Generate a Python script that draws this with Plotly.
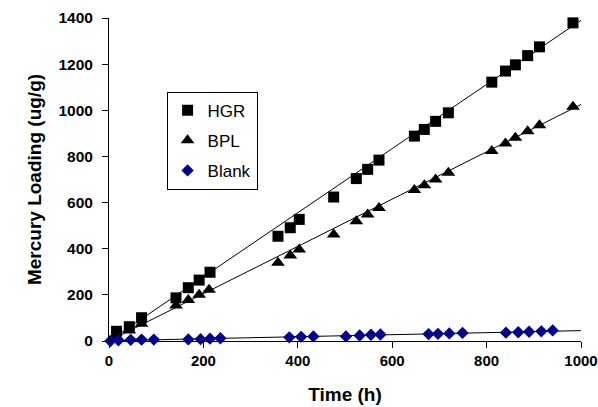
import plotly.graph_objects as go

# HGR data (time h, loading ug/g)
hgr_t = [16, 43, 69, 142, 168, 191, 214, 358, 384, 403, 476, 524, 548, 572,
         647, 668, 692, 719, 811, 840, 861, 887, 912, 983]
hgr_v = [42, 62, 101, 187, 231, 264, 298, 454, 491, 527, 624, 704, 744, 784,
         888, 917, 952, 989, 1122, 1170, 1197, 1237, 1275, 1379]

# BPL data
bpl_t = [16, 43, 69, 142, 168, 191, 212, 358, 384, 403, 476, 524, 548, 572,
         647, 668, 692, 719, 811, 840, 861, 887, 912, 983]
bpl_v = [20, 45, 75, 154, 178, 201, 222, 339, 371, 397, 462, 519, 548, 577,
         654, 675, 700, 729, 823, 856, 881, 909, 935, 1015]

# Blank data
blank_t = [3, 20, 46, 69, 95, 168, 194, 214, 236, 382, 407, 433, 502, 531,
           555, 575, 677, 697, 721, 749, 841, 867, 890, 916, 940]
blank_v = [0, 3, 5, 6, 6, 7, 8, 10, 12, 16, 18, 20, 20, 24, 27, 28, 30, 31,
           33, 35, 36, 38, 40, 42, 46]

# Linear trend line end points
trend_t = [0, 1000]
hgr_trend = [0, 1390]
bpl_trend = [0, 1025]
blank_trend = [1, 45]

x_ticks = [0, 200, 400, 600, 800, 1000]
y_ticks = [0, 200, 400, 600, 800, 1000, 1200, 1400]

fig = go.Figure()

for tv in (hgr_trend, bpl_trend, blank_trend):
    fig.add_trace(go.Scatter(x=trend_t, y=tv, mode="lines",
                             line=dict(color="black", width=1),
                             showlegend=False, hoverinfo="skip"))

fig.add_trace(go.Scatter(x=bpl_t, y=bpl_v, mode="markers", name="BPL",
                         legendgroup="b", legendrank=2,
                         marker=dict(symbol="triangle-up", size=12, color="black"),
                         cliponaxis=False))
fig.add_trace(go.Scatter(x=hgr_t, y=hgr_v, mode="markers", name="HGR",
                         legendgroup="a", legendrank=1,
                         marker=dict(symbol="square", size=11, color="black"),
                         cliponaxis=False))
fig.add_trace(go.Scatter(x=blank_t, y=blank_v, mode="markers", name="Blank",
                         legendgroup="c", legendrank=3,
                         marker=dict(symbol="diamond", size=9.5, color="#00008B"),
                         cliponaxis=False))

font_family = "Liberation Sans, Arial, sans-serif"
ytick_font = dict(size=15.5, family=font_family, weight="bold", color="black")
xtick_font = dict(size=15, family=font_family, weight="bold", color="black")

fig.update_layout(
    width=598, height=407,
    margin=dict(l=109, r=17, t=18, b=66),
    paper_bgcolor="white", plot_bgcolor="white",
    font=dict(family=font_family, color="black"),
    legend=dict(x=0.122, y=0.772, xanchor="left", yanchor="top",
                bordercolor="black", borderwidth=1, bgcolor="white",
                font=dict(size=17, color="black"),
                traceorder="grouped", tracegroupgap=5,
                itemwidth=30),
    xaxis=dict(range=[0, 1000], tickvals=x_ticks, ticks="outside",
               ticklen=6, tickwidth=1, tickcolor="black",
               showline=True, linecolor="black", linewidth=1,
               showgrid=False, zeroline=False, automargin=False,
               ticklabeloverflow="allow",
               tickfont=xtick_font,
               title=dict(text="Time (h)", font=dict(size=19, weight="bold"), standoff=19)),
    yaxis=dict(range=[0, 1400], tickvals=y_ticks, ticks="outside",
               ticklen=6, tickwidth=1, tickcolor="black",
               showline=True, linecolor="black", linewidth=1,
               showgrid=False, zeroline=False, automargin=False,
               ticklabeloverflow="allow", ticklabelstandoff=6,
               tickfont=ytick_font,
               title=dict(text="Mercury Loading (ug/g)", font=dict(size=19, weight="bold"), standoff=11)),
)

# remove the default page margin so the figure fills the window exactly
fig.write_html("out.html",
               config={"displayModeBar": False},
               post_script="document.body.style.margin='0';document.body.style.overflow='hidden';")
